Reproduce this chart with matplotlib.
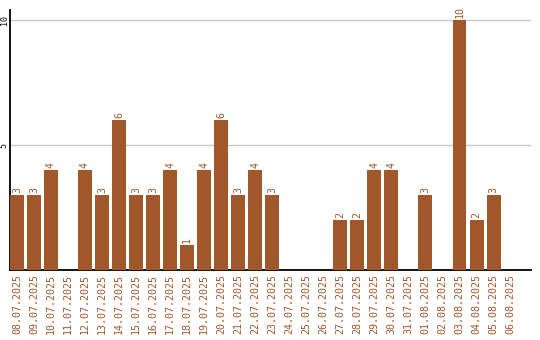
import matplotlib

matplotlib.use("Agg")
import matplotlib.pyplot as plt  # noqa: E402

dates = ["08.07.2025", "09.07.2025", "10.07.2025", "11.07.2025", "12.07.2025",
         "13.07.2025", "14.07.2025", "15.07.2025", "16.07.2025", "17.07.2025",
         "18.07.2025", "19.07.2025", "20.07.2025", "21.07.2025", "22.07.2025",
         "23.07.2025", "24.07.2025", "25.07.2025", "26.07.2025", "27.07.2025",
         "28.07.2025", "29.07.2025", "30.07.2025", "31.07.2025", "01.08.2025",
         "02.08.2025", "03.08.2025", "04.08.2025", "05.08.2025", "06.08.2025"]
counts = [3, 3, 4, 0, 4, 3, 6, 3, 3, 4, 1, 4, 6, 3, 4, 3, 0, 0, 0, 2, 2, 4, 4, 0, 3,
          0, 10, 2, 3, 0]
yticks = [5, 10]

BROWN = "#a0572a"
FONT = "DejaVu Sans Mono"

fig = plt.figure(figsize=(5.4, 3.4), dpi=100)
ax = fig.add_axes([10 / 540, 70 / 340, 521 / 540, 260 / 340])

xs = list(range(len(counts)))
ax.bar(xs, counts, width=0.82, color=BROWN, zorder=3)
for x, v in zip(xs, counts):
    if v > 0:
        ax.text(x, v + 0.08, str(v), rotation=90, ha="center", va="bottom",
                color=BROWN, fontsize=7.2, family=FONT, zorder=4)

ax.set_xlim(-0.41, 30.2)
ax.set_ylim(0, 10.4)
ax.set_yticks(yticks)
ax.set_yticklabels([str(t) for t in yticks], rotation=90, va="center",
                   fontsize=6, family=FONT)
ax.set_xticks(xs)
ax.set_xticklabels(dates, rotation=90, color=BROWN, fontsize=7.2, family=FONT)
ax.tick_params(axis="x", length=0, pad=3)
ax.tick_params(axis="y", length=0, pad=1)
ax.grid(axis="y", color="#c8c8c8", lw=1, zorder=1)
for side in ("top", "right"):
    ax.spines[side].set_visible(False)
for side in ("left", "bottom"):
    ax.spines[side].set_color("black")
    ax.spines[side].set_linewidth(1.3)

fig.savefig("out.png", dpi=100)
